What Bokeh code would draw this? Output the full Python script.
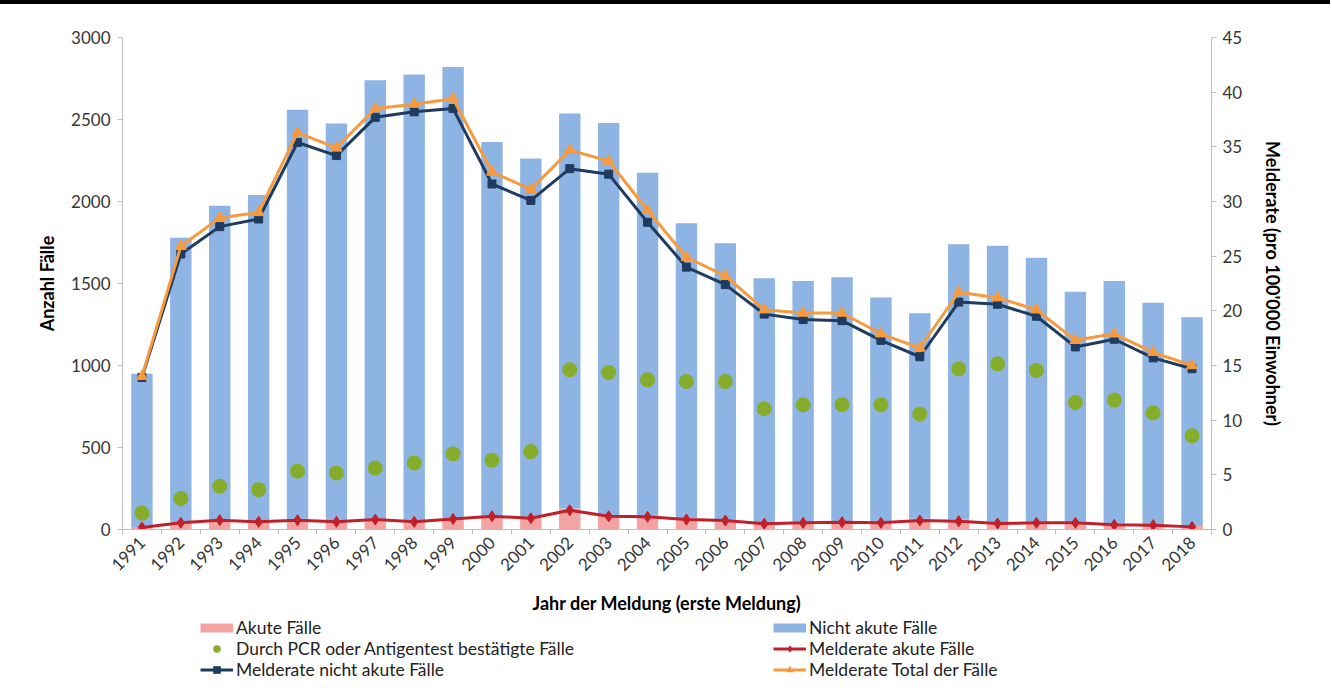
import math
from bokeh.plotting import figure
from bokeh.layouts import column
from bokeh.models import (Range1d, LinearAxis, FixedTicker, SingleIntervalTicker,
                          Legend, LegendItem, ColumnDataSource, Div)
from bokeh.embed import file_html
from bokeh.resources import INLINE

# ---------------- data ----------------
years = [1991, 1992, 1993, 1994, 1995, 1996, 1997, 1998, 1999, 2000,
         2001, 2002, 2003, 2004, 2005, 2006, 2007, 2008, 2009, 2010,
         2011, 2012, 2013, 2014, 2015, 2016, 2017, 2018]
akute = [10, 42, 58, 49, 60, 50, 64, 50, 69, 87,
         74, 128, 89, 86, 68, 62, 40, 47, 52, 48,
         65, 61, 45, 50, 51, 36, 34, 21]
nicht_akute = [940, 1737, 1916, 1990, 2500, 2425, 2675, 2725, 2751, 2276,
               2188, 2408, 2390, 2089, 1799, 1683, 1492, 1468, 1486, 1366,
               1254, 1678, 1685, 1607, 1399, 1479, 1349, 1273]
pcr = [100, 189, 264, 243, 355, 345, 375, 406, 461, 422,
       475, 974, 957, 913, 903, 903, 736, 761, 761, 761,
       704, 980, 1010, 970, 775, 789, 710, 572]
rate_akute = [0.18, 0.61, 0.85, 0.70, 0.85, 0.70, 0.91, 0.70, 0.97, 1.21,
              1.03, 1.76, 1.21, 1.16, 0.91, 0.82, 0.52, 0.61, 0.67, 0.61,
              0.82, 0.76, 0.55, 0.61, 0.61, 0.43, 0.40, 0.24]
rate_nicht_akute = [13.9, 25.2, 27.7, 28.4, 35.4, 34.2, 37.7, 38.2, 38.5, 31.6,
                    30.1, 33.0, 32.5, 28.1, 24.0, 22.4, 19.7, 19.2, 19.1, 17.3,
                    15.8, 20.8, 20.6, 19.5, 16.7, 17.4, 15.7, 14.7]
rate_total = [14.0, 25.9, 28.5, 29.0, 36.3, 34.9, 38.5, 38.9, 39.4, 32.7,
              31.1, 34.7, 33.7, 29.2, 24.9, 23.2, 20.1, 19.8, 19.8, 17.9,
              16.6, 21.7, 21.2, 20.1, 17.3, 17.9, 16.2, 15.0]
left_ticks = [0, 500, 1000, 1500, 2000, 2500, 3000]

labels = ["Akute Fälle", "Nicht akute Fälle",
          "Durch PCR oder Antigentest bestätigte Fälle",
          "Melderate akute Fälle", "Melderate nicht akute Fälle",
          "Melderate Total der Fälle"]

# ---------------- style ----------------
FONT = "Lato"
PINK = "#F4A3A3"
BLUE = "#8DB4E2"
GREEN = "#85AC2B"
RED = "#C0202A"
NAVY = "#1F3B60"
ORANGE = "#F79A3E"
AXIS_GRAY = "#BFBFBF"
TXT = "#363636"

src = ColumnDataSource(dict(year=years, akute=akute, nicht=nicht_akute, pcr=pcr,
                            ra=rate_akute, rn=rate_nicht_akute, rt=rate_total))

# black rule at the very top of the page
top_rule = Div(width=1330, height=4, margin=0,
               styles={"background-color": "black"})

p = figure(width=1324, height=612, output_backend="svg", toolbar_location=None,
           x_range=Range1d(years[0] - 0.5, years[-1] + 0.5),
           y_range=Range1d(0, 3000),
           min_border_left=122, min_border_right=113,
           min_border_top=33, min_border_bottom=86)
p.extra_y_ranges = {"rate": Range1d(0, 45)}
p.xgrid.visible = False
p.ygrid.visible = False
p.outline_line_color = None
p.background_fill_color = "white"
p.border_fill_color = "white"

# bars
p.vbar_stack(["akute", "nicht"], x="year", width=0.55, color=[PINK, BLUE],
             line_width=0, source=src)
# PCR dots
p.scatter("year", "pcr", size=15, color=GREEN, line_width=0, source=src)
# rate lines
p.line("year", "ra", y_range_name="rate", color=RED, line_width=3, source=src)
p.scatter("year", "ra", y_range_name="rate", marker="diamond", size=11,
          color=RED, source=src)
p.line("year", "rn", y_range_name="rate", color=NAVY, line_width=3, source=src)
p.scatter("year", "rn", y_range_name="rate", marker="square", size=8,
          color=NAVY, source=src)
p.line("year", "rt", y_range_name="rate", color=ORANGE, line_width=3, source=src)
p.scatter("year", "rt", y_range_name="rate", marker="triangle", size=11,
          color=ORANGE, source=src)

# ---------------- axes ----------------
xa = p.xaxis[0]
xa.ticker = FixedTicker(ticks=years,
                        minor_ticks=[y - 0.5 for y in years] + [years[-1] + 0.5])
xa.major_tick_out = 0
xa.major_tick_in = 0
xa.minor_tick_out = 5
xa.minor_tick_in = 0
xa.minor_tick_line_color = AXIS_GRAY
xa.axis_line_color = AXIS_GRAY
xa.major_label_orientation = math.pi / 4
xa.major_label_text_font = FONT
xa.major_label_text_font_size = "17px"
xa.major_label_text_color = TXT
xa.major_label_standoff = 5
xa.axis_label = "Jahr der Meldung (erste Meldung)"
xa.axis_label_text_font = FONT
xa.axis_label_text_font_size = "18px"
xa.axis_label_text_font_style = "bold"
xa.axis_label_text_color = "black"
xa.axis_label_standoff = 12

ya = p.yaxis[0]
ya.ticker = FixedTicker(ticks=left_ticks)
ya.major_tick_out = 5
ya.major_tick_in = 0
ya.minor_tick_out = 0
ya.minor_tick_in = 0
ya.major_tick_line_color = AXIS_GRAY
ya.axis_line_color = AXIS_GRAY
ya.major_label_text_font = FONT
ya.major_label_text_font_size = "17px"
ya.major_label_text_color = TXT
ya.major_label_standoff = 7
ya.axis_label = "Anzahl Fälle"
ya.axis_label_text_font = FONT
ya.axis_label_text_font_size = "18px"
ya.axis_label_text_font_style = "bold"
ya.axis_label_text_color = "black"
ya.axis_label_standoff = 10

ra = LinearAxis(y_range_name="rate", ticker=SingleIntervalTicker(interval=5))
ra.major_tick_out = 5
ra.major_tick_in = 0
ra.minor_tick_out = 0
ra.minor_tick_in = 0
ra.major_tick_line_color = AXIS_GRAY
ra.axis_line_color = AXIS_GRAY
ra.major_label_text_font = FONT
ra.major_label_text_font_size = "17px"
ra.major_label_text_color = TXT
ra.major_label_standoff = 6
ra.axis_label = "Melderate (pro 100'000 Einwohner)"
ra.axis_label_text_font = FONT
ra.axis_label_text_font_size = "18px"
ra.axis_label_text_font_style = "bold"
ra.axis_label_text_color = "black"
ra.axis_label_standoff = 17
p.add_layout(ra, "right")

# ---------------- legend (separate strip below the chart) ----------------
# the strip's ranges lie far from the data, so its renderers stay off-screen
# and only serve as legend glyphs
lg = figure(width=1324, height=70, output_backend="svg", toolbar_location=None,
            x_range=Range1d(0, 1), y_range=Range1d(-1e6, -1e6 + 1),
            x_axis_location=None, y_axis_location=None,
            min_border=0, min_border_left=0, min_border_right=0,
            min_border_top=0, min_border_bottom=0, outline_line_color=None)
lg.grid.visible = False


def proxy_line(col, color, width):
    return lg.line("year", col, source=src, color=color, line_width=width,
                   line_cap="butt")


def proxy_marker(col, color, marker, size):
    return lg.scatter("year", col, source=src, color=color, marker=marker,
                      size=size, line_width=0)


px_pink = proxy_line("akute", PINK, 9)
px_blue = proxy_line("nicht", BLUE, 9)
px_green = proxy_marker("pcr", GREEN, "circle", 8)
px_red = [proxy_line("ra", RED, 3), proxy_marker("ra", RED, "diamond", 9)]
px_navy = [proxy_line("rn", NAVY, 3), proxy_marker("rn", NAVY, "square", 7)]
px_orange = [proxy_line("rt", ORANGE, 3), proxy_marker("rt", ORANGE, "triangle", 10)]


def make_legend(items, loc):
    return Legend(items=items, location=loc, padding=0, margin=0, spacing=0,
                  border_line_alpha=0, background_fill_alpha=0,
                  glyph_width=33, glyph_height=19, label_height=19,
                  label_standoff=3, label_text_font=FONT,
                  label_text_font_size="17.5px", label_text_color="#222222")


lg.add_layout(make_legend([
    LegendItem(label=labels[0], renderers=[px_pink]),
    LegendItem(label=labels[2], renderers=[px_green]),
    LegendItem(label=labels[4], renderers=px_navy),
], (78, 6)))
lg.add_layout(make_legend([
    LegendItem(label=labels[1], renderers=[px_blue]),
    LegendItem(label=labels[3], renderers=px_red),
    LegendItem(label=labels[5], renderers=px_orange),
], (651, 6)))

layout = column(top_rule, p, lg, spacing=0)
open("out.html", "w").write(file_html(layout, INLINE))
